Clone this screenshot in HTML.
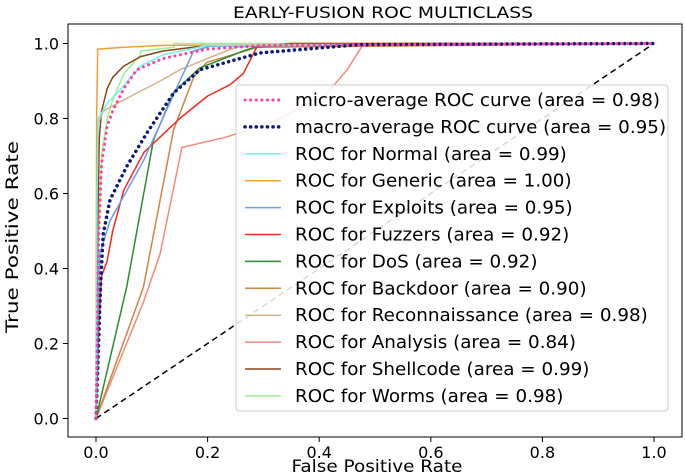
<!DOCTYPE html>
<html><head><meta charset="utf-8"><style>
body{margin:0;background:#fff;font-family:"DejaVu Sans","Liberation Sans",sans-serif}
svg{display:block}
</style></head><body>
<svg id="chart" width="685" height="476" xmlns="http://www.w3.org/2000/svg" font-family="DejaVu Sans, Liberation Sans, sans-serif"></svg>
<script>
const seriesNames=["micro-average ROC curve (area = 0.98)","macro-average ROC curve (area = 0.95)","ROC for Normal (area = 0.99)","ROC for Generic (area = 1.00)","ROC for Exploits (area = 0.95)","ROC for Fuzzers (area = 0.92)","ROC for DoS (area = 0.92)","ROC for Backdoor (area = 0.90)","ROC for Reconnaissance (area = 0.98)","ROC for Analysis (area = 0.84)","ROC for Shellcode (area = 0.99)","ROC for Worms (area = 0.98)"];
const microX=[0,0.005,0.01,0.02,0.03,0.05,0.073,0.12,0.2,0.3,1];
const microY=[0,0.5,0.68,0.78,0.82,0.88,0.93,0.96,0.985,0.995,1];
const macroX=[0,0.008,0.013,0.025,0.055,0.091,0.139,0.186,0.294,0.473,1];
const macroY=[0,0.35,0.494,0.583,0.672,0.761,0.868,0.93,0.975,0.997,1];
const normalX=[0,0.002,0.004,0.02,0.043,0.08,0.12,0.2,1];
const normalY=[0,0.6,0.8,0.84,0.876,0.94,0.97,0.995,1];
const genericX=[0,0.001,0.003,0.05,0.12,1];
const genericY=[0,0.8,0.985,0.99,0.995,1];
const exploitsX=[0,0.007,0.025,0.085,0.145,0.175,0.205,1];
const exploitsY=[0,0.44,0.527,0.687,0.883,0.98,0.993,1];
const fuzzersX=[0,0.005,0.01,0.02,0.03,0.05,0.086,0.15,0.2,0.24,0.264,0.288,0.35,1];
const fuzzersY=[0,0.25,0.38,0.42,0.5,0.61,0.71,0.8,0.86,0.89,0.92,0.99,1,1];
const dosX=[0,0.055,0.103,0.139,0.186,0.264,0.294,1];
const dosY=[0,0.351,0.743,0.87,0.935,0.98,0.995,1];
const backdoorX=[0,0.085,0.139,0.175,0.199,0.29,1];
const backdoorY=[0,0.35,0.77,0.91,0.95,0.99,1];
const reconX=[0,0.002,0.013,0.05,0.115,0.15,0.2,0.25,0.35,1];
const reconY=[0,0.78,0.82,0.85,0.9,0.93,0.96,0.99,1,1];
const analysisX=[0,0.085,0.115,0.154,0.232,0.322,0.41,0.45,0.48,1];
const analysisY=[0,0.31,0.44,0.723,0.75,0.794,0.86,0.93,1,1];
const shellX=[0,0.003,0.006,0.01,0.02,0.03,0.05,0.08,0.12,0.2,1];
const shellY=[0,0.5,0.75,0.82,0.88,0.91,0.94,0.965,0.98,0.995,1];
const wormsX=[0,0.005,0.01,0.02,0.03,0.05,0.08,0.08,0.14,0.14,1];
const wormsY=[0,0.5,0.7,0.8,0.85,0.92,0.97,0.98,0.99,1,1];
const xTicks=[0,0.2,0.4,0.6,0.8,1.0];
const yTicks=[0,0.2,0.4,0.6,0.8,1.0];
const tickLabels=["0.0","0.2","0.4","0.6","0.8","1.0"];

const NS="http://www.w3.org/2000/svg";
const svg=document.getElementById('chart');
const X=v=>96+v*558, Y=v=>418.5-v*375;
function mk(tag,attrs,parent){const e=document.createElementNS(NS,tag);for(const k in attrs)e.setAttribute(k,attrs[k]);(parent||svg).appendChild(e);return e;}
const clip=mk('clipPath',{id:'c'});mk('rect',{x:68,y:24,width:614,height:413},clip);

const title=mk('text',{x:383,y:18,'text-anchor':'middle','font-size':16,fill:'#000',textLength:300,lengthAdjust:'spacingAndGlyphs'});title.textContent='EARLY-FUSION ROC MULTICLASS';



xTicks.forEach((t,i)=>{
  const l=mk('line',{x1:X(t),x2:X(t),y1:437,y2:442,stroke:'#000','stroke-width':1});
  
  
  const tx=mk('text',{x:X(t),y:458,'text-anchor':'middle','font-size':16});tx.textContent=tickLabels[i];
  
  
});
yTicks.forEach((t,i)=>{
  const l=mk('line',{x1:63,x2:68,y1:Y(t),y2:Y(t),stroke:'#000','stroke-width':1});
  
  
  const tx=mk('text',{x:59,y:Y(t)+6,'text-anchor':'end','font-size':16});tx.textContent=tickLabels[i];
  
  
});
const xl=mk('text',{x:377,y:472,'text-anchor':'middle','font-size':16.5,textLength:171,lengthAdjust:'spacingAndGlyphs'});xl.textContent='False Positive Rate';


const yl=mk('text',{x:18,y:237,'text-anchor':'middle','font-size':16.5,textLength:192,lengthAdjust:'spacingAndGlyphs',transform:'rotate(-90 18 237)'});yl.textContent='True Positive Rate';



const diag=mk('line',{x1:X(0),y1:Y(0),x2:X(1),y2:Y(1),stroke:'#000','stroke-width':1.5,'stroke-dasharray':'6,4'});



const series=[
 [microX,microY,'#ff3fa4',3,'0.1,5.5','micro-average'],
 [macroX,macroY,'#0b1a7a',3.5,'0.1,5.5','macro-average'],
 [normalX,normalY,'#6ff0f0',1.5,null,'normal'],
 [genericX,genericY,'#f5a030',1.5,null,'generic'],
 [exploitsX,exploitsY,'#6a9ee8',1.5,null,'exploits'],
 [fuzzersX,fuzzersY,'#f02a1c',1.5,null,'fuzzers'],
 [dosX,dosY,'#2e8b2e',1.5,null,'dos'],
 [backdoorX,backdoorY,'#cd853f',1.5,null,'backdoor'],
 [reconX,reconY,'#d2b48c',1.5,null,'reconnaissance'],
 [analysisX,analysisY,'#f08a7a',1.5,null,'analysis'],
 [shellX,shellY,'#8b4513',1.5,null,'shellcode'],
 [wormsX,wormsY,'#98f098',1.5,null,'worms']];
const order=[11,10,9,8,7,6,5,4,3,2,1,0];
order.forEach(i=>{
  const s=series[i];
  const d=s[0].map((v,j)=>(j?'L':'M')+X(v).toFixed(1)+','+Y(s[1][j]).toFixed(1)).join('');
  const a={d:d,fill:'none',stroke:s[2],'stroke-width':s[3],'clip-path':'url(#c)','stroke-linejoin':'round'};
  if(s[4]){a['stroke-dasharray']=s[4];a['stroke-linecap']='round';}
  const p=mk('path',a);
  
  
});

const frame=mk('rect',{x:68,y:24,width:614,height:413,fill:'none',stroke:'#000','stroke-width':1});



const lg=mk('g',{});


mk('rect',{x:236,y:85,width:432,height:326,rx:3,fill:'#fff','fill-opacity':0.85,stroke:'#ccc'},lg);
const texts=[];
series.forEach((s,i)=>{
  const y=100+i*26.9;
  const a={x1:245,x2:281,y1:y,y2:y,stroke:s[2],'stroke-width':s[3]};
  if(s[4]){a['stroke-dasharray']=s[4];a['stroke-linecap']='round';}
  mk('line',a,lg);
  const t=mk('text',{x:295,y:y+6,'font-size':17.5,fill:'#000'},lg);t.textContent=seriesNames[i];
  
  
  texts.push(t);
});
const k=365/texts[0].getComputedTextLength();
texts.forEach(t=>{t.setAttribute('textLength',(t.getComputedTextLength()*k).toFixed(1));t.setAttribute('lengthAdjust','spacingAndGlyphs');});
</script>
</body></html>
